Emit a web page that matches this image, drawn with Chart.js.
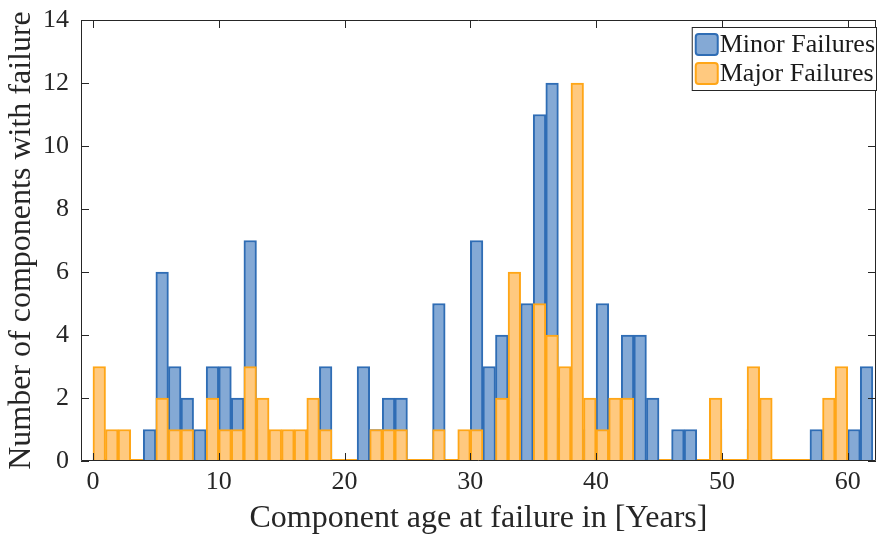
<!DOCTYPE html>
<html>
<head>
<meta charset="utf-8">
<script src="https://cdn.jsdelivr.net/npm/chart.js@4/dist/chart.umd.min.js"></script>
<style>
  html, body { margin: 0; padding: 0; background: #fff; }
  canvas { display: block; }
</style>
</head>
<body>
<canvas id="hist" width="880" height="538"></canvas>
<script>
// ==== dados (bins de 1 ano, 0..61) ====
const binStarts = Array.from({ length: 62 }, (_, i) => i);
const minorFailures = [
  0, 0, 0, 0, 1, 6, 3, 2, 1, 3,
  3, 2, 7, 1, 0, 0, 0, 1, 3, 0,
  0, 3, 1, 2, 2, 0, 0, 5, 0, 0,
  7, 3, 4, 2, 5, 11, 12, 2, 0, 1,
  5, 1, 4, 4, 2, 0, 1, 1, 0, 1,
  0, 0, 1, 0, 0, 0, 0, 1, 0, 0,
  1, 3
];
const majorFailures = [
  3, 1, 1, 0, 0, 2, 1, 1, 0, 2,
  1, 1, 3, 2, 1, 1, 1, 2, 1, 0,
  0, 0, 1, 1, 1, 0, 0, 1, 0, 1,
  1, 0, 2, 6, 0, 5, 4, 3, 12, 2,
  1, 2, 2, 0, 0, 0, 0, 0, 0, 2,
  0, 0, 3, 2, 0, 0, 0, 0, 2, 3,
  0, 0
];
const xTicks = [0, 10, 20, 30, 40, 50, 60];
const yTicks = [0, 2, 4, 6, 8, 10, 12, 14];
const seriesLabels = ['Minor Failures', 'Major Failures'];

const SERIF = "'Liberation Serif', 'Times New Roman', serif";
const INK = '#262626';

const toPoints = (arr) => arr.map((v, i) => ({ x: binStarts[i] + 0.5, y: v }));

// caixa do eixo + ticks para dentro (estilo MATLAB)
const boxPlugin = {
  id: 'boxTicks',
  afterDraw(chart) {
    const { ctx, chartArea: a, scales: { x, y } } = chart;
    const len = 8;
    ctx.save();
    ctx.strokeStyle = INK;
    ctx.lineWidth = 1;
    ctx.beginPath();
    ctx.rect(a.left + 0.5, a.top + 0.5, a.right - a.left - 1, a.bottom - a.top - 1);
    xTicks.forEach(v => {
      const px = Math.round(x.getPixelForValue(v)) + 0.5;
      ctx.moveTo(px, a.bottom); ctx.lineTo(px, a.bottom - len);
      ctx.moveTo(px, a.top); ctx.lineTo(px, a.top + len);
    });
    yTicks.forEach(v => {
      const py = Math.round(y.getPixelForValue(v)) + 0.5;
      ctx.moveTo(a.left, py); ctx.lineTo(a.left + len, py);
      ctx.moveTo(a.right, py); ctx.lineTo(a.right - len, py);
    });
    ctx.stroke();
    ctx.restore();
  }
};

// contorno das barras zeradas na linha de base (como no MATLAB)
const zeroPlugin = {
  id: 'zeroEdges',
  beforeDatasetsDraw(chart) {
    const { ctx, scales: { x, y } } = chart;
    const y0 = Math.round(y.getPixelForValue(0)) - 1;
    ctx.save();
    ctx.lineWidth = 2;
    [[minorFailures, '#2F6DB5'], [majorFailures, '#FFA617']].forEach(([arr, col]) => {
      ctx.strokeStyle = col;
      ctx.beginPath();
      arr.forEach((v, i) => {
        if (v === 0) {
          ctx.moveTo(x.getPixelForValue(binStarts[i]), y0);
          ctx.lineTo(x.getPixelForValue(binStarts[i] + 1), y0);
        }
      });
      ctx.stroke();
    });
    ctx.restore();
  }
};

// legenda dentro do gráfico, canto superior direito
const legendPlugin = {
  id: 'boxLegend',
  afterDraw(chart) {
    const { ctx, chartArea: a } = chart;
    const ds = chart.data.datasets;
    ctx.save();
    ctx.font = `26px ${SERIF}`;
    const textW = Math.max(...ds.map(d => ctx.measureText(d.label).width));
    const sw = 24, sh = 23, gap = 1, rowH = 29, padX = 3, padY = 3;
    const w = padX + sw + gap + textW + 2;
    const h = padY * 2 + rowH * ds.length;
    const left = a.right - w + 1, top = a.top + 7;
    ctx.fillStyle = '#fff';
    ctx.fillRect(left, top, w, h);
    ctx.strokeStyle = INK;
    ctx.lineWidth = 1;
    ctx.strokeRect(left + 0.5, top + 0.5, w - 1, h - 1);
    ds.forEach((d, i) => {
      const ry = top + padY + i * rowH + (rowH - sh) / 2;
      ctx.fillStyle = d.backgroundColor;
      ctx.strokeStyle = d.borderColor;
      ctx.lineWidth = 2;
      ctx.beginPath();
      ctx.roundRect(left + padX + 1, ry + 1, sw - 2, sh - 2, 3);
      ctx.fill(); ctx.stroke();
      ctx.fillStyle = '#1a1a1a';
      ctx.textBaseline = 'middle';
      ctx.fillText(d.label, left + padX + sw + gap, ry + sh / 2 + 1);
    });
    ctx.restore();
  }
};

new Chart(document.getElementById('hist'), {
  type: 'bar',
  data: {
    datasets: [
      {
        label: seriesLabels[0],
        data: toPoints(minorFailures),
        backgroundColor: '#84A9D5',
        borderColor: '#2F6DB5',
        borderWidth: 2,
        order: 2
      },
      {
        label: seriesLabels[1],
        data: toPoints(majorFailures),
        backgroundColor: '#FFC97F',
        borderColor: '#FFA617',
        borderWidth: 2,
        order: 1
      }
    ]
  },
  options: {
    responsive: false,
    devicePixelRatio: 1,
    animation: false,
    grouped: false,
    barPercentage: 1,
    categoryPercentage: 1,
    layout: { padding: { top: 20, right: 4, left: 0, bottom: 0 } },
    plugins: { legend: { display: false }, tooltip: { enabled: false } },
    scales: {
      x: {
        type: 'linear',
        offset: false,
        min: -0.95,
        max: 62.25,
        afterBuildTicks: (s) => { s.ticks = xTicks.map(v => ({ value: v })); },
        afterFit: (s) => { s.height = 77; s.paddingLeft = 0; s.paddingRight = 0; },
        grid: { display: false, drawTicks: false },
        border: { display: false },
        ticks: { color: INK, font: { family: SERIF, size: 26 }, padding: 6, maxRotation: 0 },
        title: {
          display: true,
          text: 'Component age at failure in [Years]',
          color: INK,
          font: { family: SERIF, size: 32 },
          padding: { top: 0, bottom: 0 }
        }
      },
      y: {
        min: 0,
        max: 14,
        afterBuildTicks: (s) => { s.ticks = yTicks.map(v => ({ value: v })); },
        afterFit: (s) => { s.width = 81; s.paddingTop = 0; s.paddingBottom = 0; },
        grid: { display: false, drawTicks: false },
        border: { display: false },
        ticks: { color: INK, font: { family: SERIF, size: 26 }, padding: 12 },
        title: {
          display: true,
          text: 'Number of components with failure',
          color: INK,
          font: { family: SERIF, size: 32 },
          padding: { top: 2, bottom: 0 }
        }
      }
    }
  },
  plugins: [zeroPlugin, boxPlugin, legendPlugin]
});
</script>
</body>
</html>
